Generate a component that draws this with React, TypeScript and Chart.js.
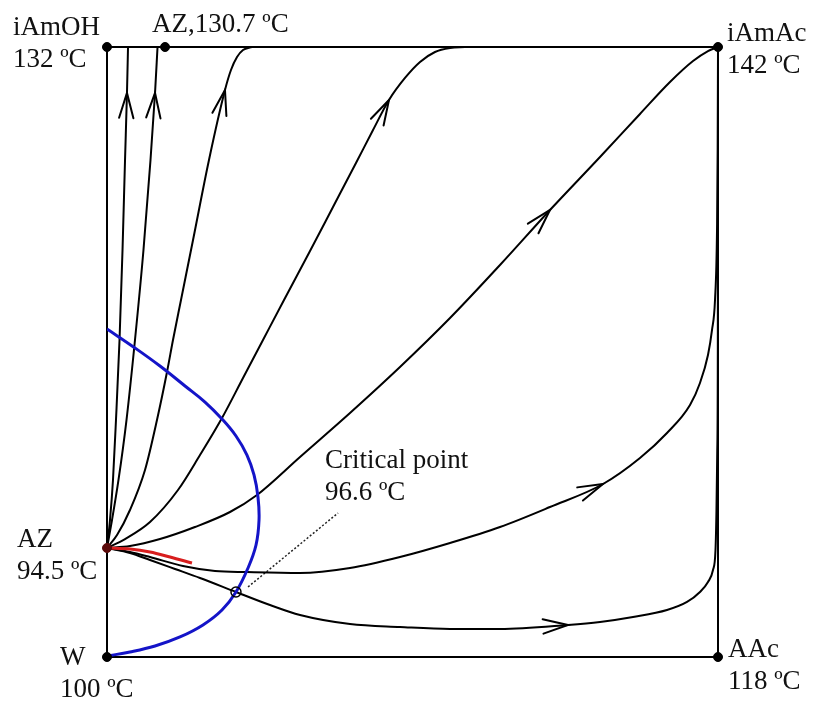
import React, { useEffect, useRef } from "react";
import { Chart, registerables } from "chart.js";

Chart.register(...registerables);

type P = [number, number];

// Square border of the composition diagram (mole fraction space)
const borderSquare: P[] = [[0, 0], [1, 0], [1, 1], [0, 1], [0, 0]];

// Singular points
const singularPoints: P[] = [[0, 1], [0.095, 1], [1, 1], [0, 0], [1, 0]];
const azPoint: P[] = [[0, 0.1787]];
const criticalPoint: P[] = [[0.2111, 0.1066]];

// Residue curves (from AZ 94.5 ºC)
const curve1: P[] = [[0, 0.1787], [0.0049, 0.2246], [0.0098, 0.2902], [0.0147, 0.3885], [0.0205, 0.5197], [0.0254, 0.6672], [0.0295, 0.8148], [0.0327, 0.9246], [0.0344, 1.0]];
const curve2: P[] = [[0, 0.1787], [0.0082, 0.2246], [0.0188, 0.2902], [0.0319, 0.3885], [0.0458, 0.5197], [0.0597, 0.6672], [0.0712, 0.8148], [0.0786, 0.9246], [0.0827, 1.0]];
const curve3: P[] = [[0, 0.1787], [0.0164, 0.2], [0.0376, 0.241], [0.0622, 0.3066], [0.0818, 0.3885], [0.0982, 0.4672], [0.108, 0.5197], [0.1211, 0.5852], [0.1408, 0.6836], [0.1669, 0.8148], [0.1931, 0.9295], [0.2029, 0.9623], [0.2128, 0.9836], [0.2226, 0.9951], [0.2373, 1.0]];
const curve4: P[] = [[0, 0.1787], [0.0295, 0.1934], [0.0704, 0.2213], [0.1162, 0.2738], [0.1522, 0.3311], [0.1882, 0.3918], [0.2226, 0.4574], [0.2553, 0.5197], [0.2897, 0.5852], [0.3314, 0.6639], [0.3699, 0.7377], [0.4075, 0.8098], [0.4354, 0.8639], [0.4615, 0.9131], [0.4877, 0.9492], [0.5123, 0.9754], [0.5368, 0.9918], [0.5614, 0.9984], [0.5859, 1.0]];
const curve5: P[] = [[0, 0.1787], [0.0376, 0.182], [0.0867, 0.1934], [0.144, 0.2131], [0.2013, 0.2377], [0.2455, 0.2656], [0.3159, 0.3279], [0.3977, 0.4], [0.4795, 0.4754], [0.5614, 0.5557], [0.6432, 0.6426], [0.725, 0.7328], [0.8069, 0.8197], [0.8723, 0.8902], [0.9214, 0.9426], [0.9591, 0.977], [0.9836, 0.9934], [1.0, 1.0]];
const curve6: P[] = [[0, 0.1787], [0.0376, 0.1721], [0.0704, 0.1639], [0.1244, 0.1492], [0.1768, 0.141], [0.2291, 0.1393], [0.3159, 0.1377], [0.3977, 0.1459], [0.4795, 0.1639], [0.5614, 0.1869], [0.6432, 0.2131], [0.725, 0.2459], [0.8118, 0.2836], [0.8723, 0.3262], [0.9165, 0.3672], [0.9542, 0.4131], [0.9705, 0.4492], [0.9836, 0.4951], [0.9902, 0.5361], [0.9951, 0.5852], [0.9984, 0.7], [0.9995, 0.8311], [1.0, 1.0]];
const curve7: P[] = [[0, 0.1787], [0.0376, 0.1705], [0.0704, 0.159], [0.1113, 0.1443], [0.1522, 0.1295], [0.2111, 0.1066], [0.2668, 0.0852], [0.3159, 0.0689], [0.3977, 0.0541], [0.4795, 0.0492], [0.5614, 0.0459], [0.6432, 0.0459], [0.7545, 0.0525], [0.8069, 0.0574], [0.8609, 0.0656], [0.9165, 0.077], [0.9493, 0.0902], [0.9705, 0.1066], [0.9836, 0.123], [0.9918, 0.1426], [0.9959, 0.1754], [0.9975, 0.241], [0.9988, 0.3393], [0.9997, 0.5033], [1.0, 1.0]];

// Red separatrix near AZ
const redCurve: P[] = [[0, 0.1787], [0.0376, 0.177], [0.0704, 0.1721], [0.1031, 0.1639], [0.1391, 0.1541]];

// Blue locus curve
const blueCurve: P[] = [[0, 0.5377], [0.0458, 0.5066], [0.0867, 0.477], [0.1277, 0.4443], [0.1604, 0.418], [0.1882, 0.3902], [0.2111, 0.3623], [0.2291, 0.3311], [0.2406, 0.2984], [0.2471, 0.2623], [0.2488, 0.2246], [0.2439, 0.1836], [0.2308, 0.1459], [0.2111, 0.1066], [0.1882, 0.077], [0.1571, 0.0525], [0.1195, 0.0328], [0.0786, 0.018], [0.0376, 0.0082], [0, 0.0016]];

// Leader line for the critical point label
const leaderLine: P[] = [[0.2308, 0.1148], [0.3781, 0.2361]];

// Arrow tips: curve and index of the tip point in it
const arrowCurves: P[][] = [curve1, curve2, curve3, curve4, curve5, curve6, curve7];
const arrowIndex: number[] = [7, 7, 10, 13, 11, 12, 12];

// Labels: anchor point (data), text lines
const labelAnchors: P[] = [[0, 1], [0.095, 1], [1, 1], [0, 0.1787], [0, 0], [1, 0], [0.2111, 0.1066]];
const labelTexts: string[][] = [
  ["iAmOH", "132 ºC"],
  ["AZ,130.7 ºC"],
  ["iAmAc", "142 ºC"],
  ["AZ", "94.5 ºC"],
  ["W", "100 ºC"],
  ["AAc", "118 ºC"],
  ["Critical point", "96.6 ºC"],
];
const labelOffsets: P[] = [[-94, -12], [-13, -15], [9, -6], [-90, -1], [-47, 8], [10, 0], [89, -124]];
const lineGap = 32;

const toXY = (arr: P[]) => arr.map(([x, y]) => ({ x, y }));

const overlayPlugin = {
  id: "overlay",
  afterDatasetsDraw(chart: any) {
    const ctx = chart.ctx as CanvasRenderingContext2D;
    const xs = chart.scales.x;
    const ys = chart.scales.y;
    ctx.save();
    ctx.strokeStyle = "#000";
    ctx.lineWidth = 2;
    ctx.lineCap = "round";
    arrowCurves.forEach((c, i) => {
      const k = arrowIndex[i];
      const tx = xs.getPixelForValue(c[k][0]);
      const ty = ys.getPixelForValue(c[k][1]);
      const px = xs.getPixelForValue(c[k - 1][0]);
      const py = ys.getPixelForValue(c[k - 1][1]);
      const a = Math.atan2(ty - py, tx - px);
      const L = 26;
      const h = (16 * Math.PI) / 180;
      ctx.beginPath();
      ctx.moveTo(tx - L * Math.cos(a - h), ty - L * Math.sin(a - h));
      ctx.lineTo(tx, ty);
      ctx.lineTo(tx - L * Math.cos(a + h), ty - L * Math.sin(a + h));
      ctx.stroke();
    });
    ctx.restore();
  },
  afterDraw(chart: any) {
    const ctx = chart.ctx as CanvasRenderingContext2D;
    const xs = chart.scales.x;
    const ys = chart.scales.y;
    ctx.save();
    ctx.fillStyle = "#111";
    ctx.font = "27px 'Liberation Serif', 'Times New Roman', serif";
    ctx.textAlign = "left";
    ctx.textBaseline = "alphabetic";
    labelAnchors.forEach((p, i) => {
      const ax = xs.getPixelForValue(p[0]) + labelOffsets[i][0];
      const ay = ys.getPixelForValue(p[1]) + labelOffsets[i][1];
      labelTexts[i].forEach((t, j) => ctx.fillText(t, ax, ay + j * lineGap));
    });
    ctx.restore();
  },
};

export default function App() {
  const ref = useRef<HTMLCanvasElement>(null);
  useEffect(() => {
    if (!ref.current) return;
    const black = (d: P[]) => ({
      data: toXY(d),
      showLine: true,
      borderColor: "#000",
      borderWidth: 2,
      pointRadius: 0,
      cubicInterpolationMode: "monotone",
      fill: false,
      order: 5,
    });
    const chart = new Chart(ref.current, {
      type: "scatter",
      data: {
        datasets: [
          { data: toXY(borderSquare), showLine: true, borderColor: "#000", borderWidth: 2, pointRadius: 0, tension: 0, clip: false, order: 9 },
          black(curve1),
          black(curve2),
          black(curve3),
          black(curve4),
          black(curve5),
          black(curve6),
          black(curve7),
          { data: toXY(leaderLine), showLine: true, borderColor: "#222", borderWidth: 1.5, borderDash: [2, 2], pointRadius: 0, order: 6 },
          { data: toXY(blueCurve), showLine: true, borderColor: "#1414c8", borderWidth: 3, pointRadius: 0, tension: 0.4, order: 4 },
          { data: toXY(redCurve), showLine: true, borderColor: "#d81e1e", borderWidth: 3, pointRadius: 0, cubicInterpolationMode: "monotone", order: 3 },
          { data: toXY(criticalPoint), showLine: false, pointRadius: 5, pointBackgroundColor: "rgba(0,0,0,0)", pointBorderColor: "#000", pointBorderWidth: 1.5, clip: false, order: 2 },
          { data: toXY(singularPoints), showLine: false, pointRadius: 4.5, pointBackgroundColor: "#000", pointBorderColor: "#000", clip: false, order: 1 },
          { data: toXY(azPoint), showLine: false, pointRadius: 4.5, pointBackgroundColor: "#5a0a0a", pointBorderColor: "#5a0a0a", clip: false, order: 1 },
        ],
      },
      options: {
        animation: false,
        responsive: false,
        events: [],
        layout: { padding: { left: 107, right: 98, top: 47, bottom: 45 } },
        plugins: { legend: { display: false }, tooltip: { enabled: false } },
        scales: {
          x: { type: "linear", min: 0, max: 1, display: false },
          y: { type: "linear", min: 0, max: 1, display: false },
        },
      },
      plugins: [overlayPlugin],
    } as any);
    return () => chart.destroy();
  }, []);
  return (
    <div style={{ position: "absolute", left: 0, top: 0, width: 816, height: 702, background: "#fff" }}>
      <canvas ref={ref} width={816} height={702} style={{ display: "block" }} />
    </div>
  );
}
